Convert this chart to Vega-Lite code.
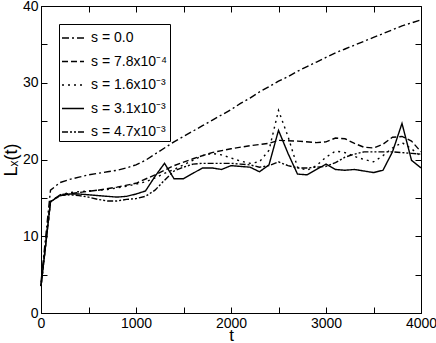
{
  "$schema": "https://vega.github.io/schema/vega-lite/v6.json",
  "width": 380,
  "height": 307,
  "autosize": {"type": "none"},
  "padding": {"left": 41, "top": 6, "right": 15, "bottom": 30},
  "config": {
    "font": "Liberation Sans",
    "view": {"stroke": "black", "strokeWidth": 1},
    "axis": {
      "domainColor": "black",
      "tickColor": "black",
      "tickSize": -6,
      "labelColor": "black",
      "labelFontSize": 14,
      "titleFontSize": 18,
      "titleFontWeight": "normal",
      "titleColor": "black",
      "grid": false
    }
  },
  "data": {
    "values": [
      {"t": 0, "L": 4.0, "s": "s = 0.0"},
      {"t": 100, "L": 16.0, "s": "s = 0.0"},
      {"t": 200, "L": 17.0, "s": "s = 0.0"},
      {"t": 300, "L": 17.4, "s": "s = 0.0"},
      {"t": 400, "L": 17.7, "s": "s = 0.0"},
      {"t": 500, "L": 18.0, "s": "s = 0.0"},
      {"t": 600, "L": 18.2, "s": "s = 0.0"},
      {"t": 700, "L": 18.4, "s": "s = 0.0"},
      {"t": 800, "L": 18.6, "s": "s = 0.0"},
      {"t": 900, "L": 18.9, "s": "s = 0.0"},
      {"t": 1000, "L": 19.3, "s": "s = 0.0"},
      {"t": 1100, "L": 19.9, "s": "s = 0.0"},
      {"t": 1200, "L": 20.7, "s": "s = 0.0"},
      {"t": 1300, "L": 21.5, "s": "s = 0.0"},
      {"t": 1400, "L": 22.3, "s": "s = 0.0"},
      {"t": 1500, "L": 23.0, "s": "s = 0.0"},
      {"t": 1600, "L": 23.7, "s": "s = 0.0"},
      {"t": 1700, "L": 24.4, "s": "s = 0.0"},
      {"t": 1800, "L": 25.1, "s": "s = 0.0"},
      {"t": 1900, "L": 25.8, "s": "s = 0.0"},
      {"t": 2000, "L": 26.5, "s": "s = 0.0"},
      {"t": 2100, "L": 27.3, "s": "s = 0.0"},
      {"t": 2200, "L": 28.0, "s": "s = 0.0"},
      {"t": 2300, "L": 28.8, "s": "s = 0.0"},
      {"t": 2400, "L": 29.5, "s": "s = 0.0"},
      {"t": 2500, "L": 30.2, "s": "s = 0.0"},
      {"t": 2600, "L": 30.8, "s": "s = 0.0"},
      {"t": 2700, "L": 31.5, "s": "s = 0.0"},
      {"t": 2800, "L": 32.1, "s": "s = 0.0"},
      {"t": 2900, "L": 32.7, "s": "s = 0.0"},
      {"t": 3000, "L": 33.3, "s": "s = 0.0"},
      {"t": 3100, "L": 33.9, "s": "s = 0.0"},
      {"t": 3200, "L": 34.4, "s": "s = 0.0"},
      {"t": 3300, "L": 34.9, "s": "s = 0.0"},
      {"t": 3400, "L": 35.4, "s": "s = 0.0"},
      {"t": 3500, "L": 35.9, "s": "s = 0.0"},
      {"t": 3600, "L": 36.4, "s": "s = 0.0"},
      {"t": 3700, "L": 36.9, "s": "s = 0.0"},
      {"t": 3800, "L": 37.4, "s": "s = 0.0"},
      {"t": 3900, "L": 37.8, "s": "s = 0.0"},
      {"t": 4000, "L": 38.2, "s": "s = 0.0"},

      {"t": 0, "L": 3.5, "s": "s = 7.8x10⁻⁴"},
      {"t": 100, "L": 14.5, "s": "s = 7.8x10⁻⁴"},
      {"t": 200, "L": 15.4, "s": "s = 7.8x10⁻⁴"},
      {"t": 400, "L": 15.7, "s": "s = 7.8x10⁻⁴"},
      {"t": 600, "L": 16.0, "s": "s = 7.8x10⁻⁴"},
      {"t": 800, "L": 16.4, "s": "s = 7.8x10⁻⁴"},
      {"t": 1000, "L": 16.9, "s": "s = 7.8x10⁻⁴"},
      {"t": 1200, "L": 18.0, "s": "s = 7.8x10⁻⁴"},
      {"t": 1400, "L": 19.2, "s": "s = 7.8x10⁻⁴"},
      {"t": 1600, "L": 20.1, "s": "s = 7.8x10⁻⁴"},
      {"t": 1800, "L": 20.9, "s": "s = 7.8x10⁻⁴"},
      {"t": 2000, "L": 21.4, "s": "s = 7.8x10⁻⁴"},
      {"t": 2200, "L": 21.8, "s": "s = 7.8x10⁻⁴"},
      {"t": 2400, "L": 22.1, "s": "s = 7.8x10⁻⁴"},
      {"t": 2500, "L": 22.5, "s": "s = 7.8x10⁻⁴"},
      {"t": 2700, "L": 22.4, "s": "s = 7.8x10⁻⁴"},
      {"t": 2900, "L": 22.2, "s": "s = 7.8x10⁻⁴"},
      {"t": 3000, "L": 22.3, "s": "s = 7.8x10⁻⁴"},
      {"t": 3100, "L": 22.8, "s": "s = 7.8x10⁻⁴"},
      {"t": 3200, "L": 22.7, "s": "s = 7.8x10⁻⁴"},
      {"t": 3300, "L": 22.1, "s": "s = 7.8x10⁻⁴"},
      {"t": 3400, "L": 21.6, "s": "s = 7.8x10⁻⁴"},
      {"t": 3500, "L": 21.5, "s": "s = 7.8x10⁻⁴"},
      {"t": 3600, "L": 22.0, "s": "s = 7.8x10⁻⁴"},
      {"t": 3700, "L": 22.9, "s": "s = 7.8x10⁻⁴"},
      {"t": 3800, "L": 23.0, "s": "s = 7.8x10⁻⁴"},
      {"t": 3900, "L": 22.4, "s": "s = 7.8x10⁻⁴"},
      {"t": 4000, "L": 21.0, "s": "s = 7.8x10⁻⁴"},

      {"t": 0, "L": 3.5, "s": "s = 1.6x10⁻³"},
      {"t": 100, "L": 14.5, "s": "s = 1.6x10⁻³"},
      {"t": 200, "L": 15.4, "s": "s = 1.6x10⁻³"},
      {"t": 300, "L": 15.7, "s": "s = 1.6x10⁻³"},
      {"t": 400, "L": 15.8, "s": "s = 1.6x10⁻³"},
      {"t": 500, "L": 15.9, "s": "s = 1.6x10⁻³"},
      {"t": 600, "L": 16.0, "s": "s = 1.6x10⁻³"},
      {"t": 700, "L": 16.1, "s": "s = 1.6x10⁻³"},
      {"t": 800, "L": 16.3, "s": "s = 1.6x10⁻³"},
      {"t": 900, "L": 16.5, "s": "s = 1.6x10⁻³"},
      {"t": 1000, "L": 16.8, "s": "s = 1.6x10⁻³"},
      {"t": 1100, "L": 17.1, "s": "s = 1.6x10⁻³"},
      {"t": 1200, "L": 17.6, "s": "s = 1.6x10⁻³"},
      {"t": 1300, "L": 18.2, "s": "s = 1.6x10⁻³"},
      {"t": 1400, "L": 18.7, "s": "s = 1.6x10⁻³"},
      {"t": 1500, "L": 19.3, "s": "s = 1.6x10⁻³"},
      {"t": 1600, "L": 19.9, "s": "s = 1.6x10⁻³"},
      {"t": 1700, "L": 20.5, "s": "s = 1.6x10⁻³"},
      {"t": 1800, "L": 20.8, "s": "s = 1.6x10⁻³"},
      {"t": 1900, "L": 20.6, "s": "s = 1.6x10⁻³"},
      {"t": 2000, "L": 20.2, "s": "s = 1.6x10⁻³"},
      {"t": 2100, "L": 19.8, "s": "s = 1.6x10⁻³"},
      {"t": 2200, "L": 19.5, "s": "s = 1.6x10⁻³"},
      {"t": 2300, "L": 19.7, "s": "s = 1.6x10⁻³"},
      {"t": 2400, "L": 21.2, "s": "s = 1.6x10⁻³"},
      {"t": 2500, "L": 26.4, "s": "s = 1.6x10⁻³"},
      {"t": 2600, "L": 23.0, "s": "s = 1.6x10⁻³"},
      {"t": 2700, "L": 19.0, "s": "s = 1.6x10⁻³"},
      {"t": 2800, "L": 18.6, "s": "s = 1.6x10⁻³"},
      {"t": 2900, "L": 19.2, "s": "s = 1.6x10⁻³"},
      {"t": 3000, "L": 20.3, "s": "s = 1.6x10⁻³"},
      {"t": 3100, "L": 21.1, "s": "s = 1.6x10⁻³"},
      {"t": 3200, "L": 20.9, "s": "s = 1.6x10⁻³"},
      {"t": 3300, "L": 20.4, "s": "s = 1.6x10⁻³"},
      {"t": 3400, "L": 20.0, "s": "s = 1.6x10⁻³"},
      {"t": 3500, "L": 19.7, "s": "s = 1.6x10⁻³"},
      {"t": 3600, "L": 20.5, "s": "s = 1.6x10⁻³"},
      {"t": 3700, "L": 21.5, "s": "s = 1.6x10⁻³"},
      {"t": 3800, "L": 22.2, "s": "s = 1.6x10⁻³"},
      {"t": 3900, "L": 21.4, "s": "s = 1.6x10⁻³"},
      {"t": 4000, "L": 20.4, "s": "s = 1.6x10⁻³"},

      {"t": 0, "L": 3.5, "s": "s = 3.1x10⁻³"},
      {"t": 100, "L": 14.5, "s": "s = 3.1x10⁻³"},
      {"t": 200, "L": 15.3, "s": "s = 3.1x10⁻³"},
      {"t": 300, "L": 15.5, "s": "s = 3.1x10⁻³"},
      {"t": 400, "L": 15.5, "s": "s = 3.1x10⁻³"},
      {"t": 500, "L": 15.4, "s": "s = 3.1x10⁻³"},
      {"t": 600, "L": 15.3, "s": "s = 3.1x10⁻³"},
      {"t": 700, "L": 15.2, "s": "s = 3.1x10⁻³"},
      {"t": 800, "L": 15.1, "s": "s = 3.1x10⁻³"},
      {"t": 900, "L": 15.2, "s": "s = 3.1x10⁻³"},
      {"t": 1000, "L": 15.5, "s": "s = 3.1x10⁻³"},
      {"t": 1100, "L": 15.9, "s": "s = 3.1x10⁻³"},
      {"t": 1200, "L": 17.8, "s": "s = 3.1x10⁻³"},
      {"t": 1300, "L": 19.5, "s": "s = 3.1x10⁻³"},
      {"t": 1400, "L": 17.5, "s": "s = 3.1x10⁻³"},
      {"t": 1500, "L": 17.5, "s": "s = 3.1x10⁻³"},
      {"t": 1600, "L": 18.2, "s": "s = 3.1x10⁻³"},
      {"t": 1700, "L": 18.9, "s": "s = 3.1x10⁻³"},
      {"t": 1800, "L": 18.9, "s": "s = 3.1x10⁻³"},
      {"t": 1900, "L": 18.7, "s": "s = 3.1x10⁻³"},
      {"t": 2000, "L": 19.2, "s": "s = 3.1x10⁻³"},
      {"t": 2100, "L": 19.1, "s": "s = 3.1x10⁻³"},
      {"t": 2200, "L": 19.0, "s": "s = 3.1x10⁻³"},
      {"t": 2300, "L": 18.4, "s": "s = 3.1x10⁻³"},
      {"t": 2400, "L": 19.3, "s": "s = 3.1x10⁻³"},
      {"t": 2500, "L": 23.8, "s": "s = 3.1x10⁻³"},
      {"t": 2600, "L": 20.8, "s": "s = 3.1x10⁻³"},
      {"t": 2700, "L": 18.1, "s": "s = 3.1x10⁻³"},
      {"t": 2800, "L": 18.0, "s": "s = 3.1x10⁻³"},
      {"t": 2900, "L": 18.7, "s": "s = 3.1x10⁻³"},
      {"t": 3000, "L": 19.4, "s": "s = 3.1x10⁻³"},
      {"t": 3100, "L": 18.7, "s": "s = 3.1x10⁻³"},
      {"t": 3200, "L": 18.6, "s": "s = 3.1x10⁻³"},
      {"t": 3300, "L": 18.7, "s": "s = 3.1x10⁻³"},
      {"t": 3400, "L": 18.5, "s": "s = 3.1x10⁻³"},
      {"t": 3500, "L": 18.3, "s": "s = 3.1x10⁻³"},
      {"t": 3600, "L": 18.6, "s": "s = 3.1x10⁻³"},
      {"t": 3700, "L": 21.0, "s": "s = 3.1x10⁻³"},
      {"t": 3800, "L": 24.7, "s": "s = 3.1x10⁻³"},
      {"t": 3900, "L": 19.9, "s": "s = 3.1x10⁻³"},
      {"t": 4000, "L": 18.9, "s": "s = 3.1x10⁻³"},

      {"t": 0, "L": 3.5, "s": "s = 4.7x10⁻³"},
      {"t": 100, "L": 14.5, "s": "s = 4.7x10⁻³"},
      {"t": 200, "L": 15.3, "s": "s = 4.7x10⁻³"},
      {"t": 300, "L": 15.4, "s": "s = 4.7x10⁻³"},
      {"t": 400, "L": 15.3, "s": "s = 4.7x10⁻³"},
      {"t": 500, "L": 15.1, "s": "s = 4.7x10⁻³"},
      {"t": 600, "L": 14.8, "s": "s = 4.7x10⁻³"},
      {"t": 700, "L": 14.6, "s": "s = 4.7x10⁻³"},
      {"t": 800, "L": 14.6, "s": "s = 4.7x10⁻³"},
      {"t": 900, "L": 14.8, "s": "s = 4.7x10⁻³"},
      {"t": 1000, "L": 14.9, "s": "s = 4.7x10⁻³"},
      {"t": 1100, "L": 15.2, "s": "s = 4.7x10⁻³"},
      {"t": 1200, "L": 16.0, "s": "s = 4.7x10⁻³"},
      {"t": 1300, "L": 17.3, "s": "s = 4.7x10⁻³"},
      {"t": 1400, "L": 18.5, "s": "s = 4.7x10⁻³"},
      {"t": 1500, "L": 19.0, "s": "s = 4.7x10⁻³"},
      {"t": 1600, "L": 19.4, "s": "s = 4.7x10⁻³"},
      {"t": 1700, "L": 19.5, "s": "s = 4.7x10⁻³"},
      {"t": 1800, "L": 19.5, "s": "s = 4.7x10⁻³"},
      {"t": 1900, "L": 19.5, "s": "s = 4.7x10⁻³"},
      {"t": 2000, "L": 19.5, "s": "s = 4.7x10⁻³"},
      {"t": 2100, "L": 19.4, "s": "s = 4.7x10⁻³"},
      {"t": 2200, "L": 19.3, "s": "s = 4.7x10⁻³"},
      {"t": 2300, "L": 19.0, "s": "s = 4.7x10⁻³"},
      {"t": 2400, "L": 19.2, "s": "s = 4.7x10⁻³"},
      {"t": 2500, "L": 19.7, "s": "s = 4.7x10⁻³"},
      {"t": 2600, "L": 19.2, "s": "s = 4.7x10⁻³"},
      {"t": 2700, "L": 18.9, "s": "s = 4.7x10⁻³"},
      {"t": 2800, "L": 18.9, "s": "s = 4.7x10⁻³"},
      {"t": 2900, "L": 19.0, "s": "s = 4.7x10⁻³"},
      {"t": 3000, "L": 19.1, "s": "s = 4.7x10⁻³"},
      {"t": 3100, "L": 19.6, "s": "s = 4.7x10⁻³"},
      {"t": 3200, "L": 20.3, "s": "s = 4.7x10⁻³"},
      {"t": 3300, "L": 20.7, "s": "s = 4.7x10⁻³"},
      {"t": 3400, "L": 21.0, "s": "s = 4.7x10⁻³"},
      {"t": 3500, "L": 21.0, "s": "s = 4.7x10⁻³"},
      {"t": 3600, "L": 21.0, "s": "s = 4.7x10⁻³"},
      {"t": 3700, "L": 21.0, "s": "s = 4.7x10⁻³"},
      {"t": 3800, "L": 20.9, "s": "s = 4.7x10⁻³"},
      {"t": 3900, "L": 20.8, "s": "s = 4.7x10⁻³"},
      {"t": 4000, "L": 20.7, "s": "s = 4.7x10⁻³"}
    ]
  },
  "layer": [
    {
      "mark": {"type": "line", "color": "black", "strokeWidth": 1.4},
      "encoding": {
        "x": {
          "field": "t", "type": "quantitative",
          "scale": {"domain": [0, 4000], "nice": false},
          "axis": {
            "title": "t",
            "titleFontSize": 17,
            "values": [0, 500, 1000, 1500, 2000, 2500, 3000, 3500, 4000],
            "labelExpr": "datum.value % 1000 === 0 ? datum.label : ''",
            "labelPadding": 9,
            "titlePadding": -3,
            "labelFlush": false,
            "format": "d"
          }
        },
        "y": {
          "field": "L", "type": "quantitative",
          "scale": {"domain": [0, 40], "nice": false},
          "axis": {
            "title": "Lₓ(t)",
            "values": [0, 5, 10, 15, 20, 25, 30, 35, 40],
            "labelExpr": "datum.value % 10 === 0 ? datum.label : ''",
            "labelPadding": 9,
            "titlePadding": 2,
            "labelFlush": false
          }
        },
        "strokeDash": {
          "field": "s", "type": "nominal",
          "scale": {
            "domain": ["s = 0.0", "s = 7.8x10⁻⁴", "s = 1.6x10⁻³", "s = 3.1x10⁻³", "s = 4.7x10⁻³"],
            "range": [[7, 3, 2, 3], [6, 3], [2, 4], [1, 0], [6, 2, 2, 2, 2, 2]]
          },
          "legend": {
            "title": null,
            "orient": "none",
            "legendX": 18,
            "legendY": 18,
            "strokeColor": "black",
            "fillColor": "white",
            "padding": 2,
            "symbolType": "stroke",
            "symbolSize": 484,
            "symbolStrokeColor": "black",
            "symbolStrokeWidth": 1.4,
            "labelFontSize": 14,
            "labelColor": "black",
            "labelOffset": 6,
            "rowPadding": 4.5
          }
        },
        "detail": {"field": "s"}
      }
    },
    {
      "mark": {"type": "point", "opacity": 0},
      "encoding": {
        "x": {
          "field": "t", "type": "quantitative",
          "axis": {
            "orient": "top", "title": null, "labels": false, "domain": false,
            "values": [0, 500, 1000, 1500, 2000, 2500, 3000, 3500, 4000]
          }
        },
        "y": {
          "field": "L", "type": "quantitative",
          "axis": {
            "orient": "right", "title": null, "labels": false, "domain": false,
            "values": [0, 5, 10, 15, 20, 25, 30, 35, 40]
          }
        }
      }
    }
  ],
  "resolve": {"axis": {"x": "independent", "y": "independent"}}
}
